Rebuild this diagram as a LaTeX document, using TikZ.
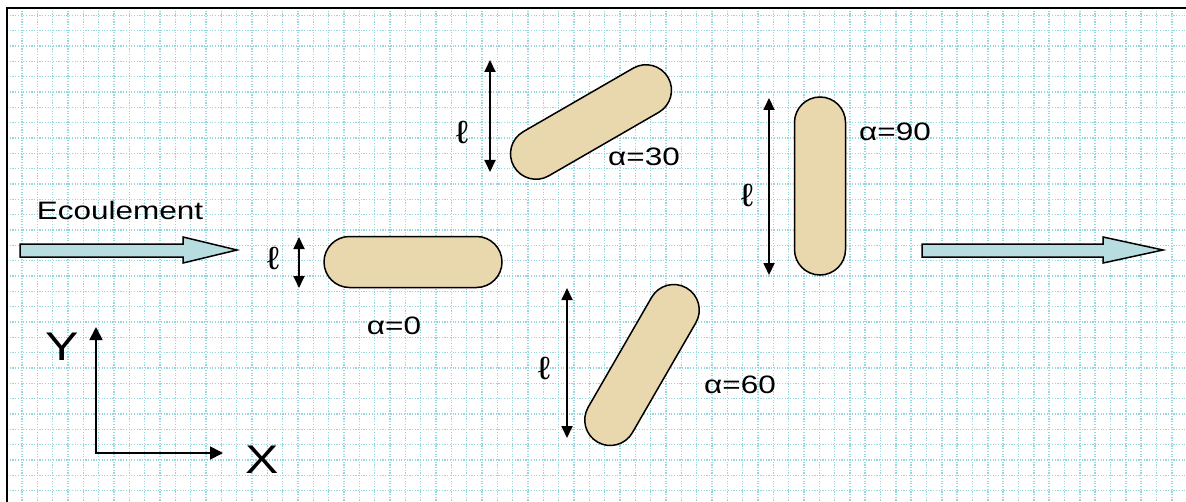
\documentclass[tikz,border=0pt]{standalone}
\usepackage{fontspec}
\setmainfont{Liberation Sans}
\usetikzlibrary{positioning,arrows.meta,shapes.misc}

\definecolor{gridcol}{RGB}{150,214,222}
\definecolor{grain}{RGB}{233,215,174}
\definecolor{flowcol}{RGB}{183,221,224}

\tikzset{
    gridline/.style={gridcol, line width=0.7pt, dash pattern=on 0.6pt off 0.75pt},
    grainbox/.style={rounded rectangle, draw, line width=0.75pt, fill=grain,
        minimum width=89pt, minimum height=25.5pt, inner sep=0pt},
    flowarrow/.style={draw, line width=0.75pt, fill=flowcol},
    dimarrow/.style={<->, >={Triangle[length=6pt,width=5.5pt]}, line width=0.9pt},
    axisarrow/.style={<->, >={Triangle[length=6.5pt,width=6.5pt]}, line width=0.9pt},
    lbl/.style={font=\fontsize{12.6}{15}\selectfont, inner sep=0pt, xscale=1.25},
    elllbl/.style={font=\fontsize{16}{19}\selectfont, inner sep=0pt, xscale=1.2},
    axlbl/.style={font=\fontsize{20}{24}\selectfont, inner sep=0pt, xscale=1.25},
}

\begin{document}
\begin{tikzpicture}[x=0.5pt, y=-0.5pt]
    \useasboundingbox (0,0) rectangle (1186,502);
    \fill[white] (0,0) rectangle (1186,502);

    % fond quadrille
    \begin{scope}
        \clip (7,8) rectangle (1186,502);
        \foreach \i in {1,...,77}
            \draw[gridline] (6.7+15.33*\i,8) -- (6.7+15.33*\i,502);
        \foreach \j in {1,...,32}
            \draw[gridline] (7,15.33*\j) -- (1186,15.33*\j);
    \end{scope}
    \draw[line width=1pt] (7,502) -- (7,8) -- (1186,8);

    % ecoulement
    \draw[flowarrow] (20,244) -- (183,244) -- (183,237) -- (237,250) -- (183,263) -- (183,257) -- (20,257) -- cycle;
    \node[lbl] (ecoul) at (120,210) {Ecoulement};
    \draw[flowarrow] (922,244) -- (1103,244) -- (1103,237) -- (1163,250) -- (1103,263) -- (1103,257) -- (922,257) -- cycle;

    % grains
    \node[grainbox] (g0) at (413,262) {};
    \node[grainbox, rotate=30] (g30) at (591,122) {};
    \node[grainbox, rotate=60] (g60) at (642,365) {};
    \node[grainbox, rotate=90] (g90) at (820,186) {};

    \node[lbl] (a0) at (394,326) {α=0};
    \node[lbl] (a30) at (644,157) {α=30};
    \node[lbl] (a60) at (740,385) {α=60};
    \node[lbl] (a90) at (895,132) {α=90};

    % longueurs
    \coordinate (d0a) at (299,237);  \coordinate (d0b) at (299,288);
    \coordinate (d30a) at (490,60);  \coordinate (d30b) at (490,172);
    \coordinate (d60a) at (567,288); \coordinate (d60b) at (567,438);
    \coordinate (d90a) at (769,98);  \coordinate (d90b) at (769,275);
    \draw[dimarrow] (d0a) -- (d0b);
    \draw[dimarrow] (d30a) -- (d30b);
    \draw[dimarrow] (d60a) -- (d60b);
    \draw[dimarrow] (d90a) -- (d90b);
    \node[elllbl] (l0) at (273,258) {ℓ};
    \node[elllbl] (l30) at (462,132) {ℓ};
    \node[elllbl] (l60) at (544,368) {ℓ};
    \node[elllbl] (l90) at (747,195) {ℓ};

    % axes
    \coordinate (O) at (96,453);
    \coordinate (ytip) at (96,327);
    \coordinate (xtip) at (223,453);
    \draw[axisarrow] (ytip) -- (O) -- (xtip);
    \node[axlbl] (ylab) at (62,347) {Y};
    \node[axlbl] (xlab) at (262,460) {X};
\end{tikzpicture}
\end{document}
